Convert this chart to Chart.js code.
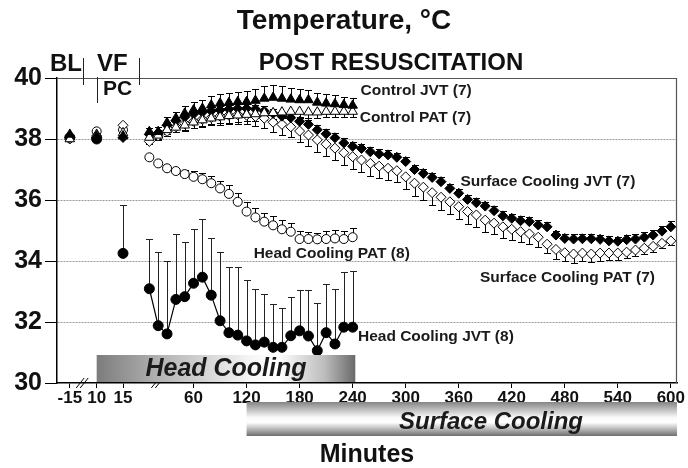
<!DOCTYPE html>
<html>
<head>
<meta charset="utf-8">
<script src="https://cdn.jsdelivr.net/npm/chart.js@4.4.0/dist/chart.umd.min.js"></script>
<style>
  html, body { margin: 0; padding: 0; background: #fff; }
  #wrap { width: 688px; height: 468px; }
</style>
</head>
<body>
<div id="wrap"><canvas id="tempChart" width="688" height="468"></canvas></div>
<script>
// ===== data (°C) =====
const preTimes = ['-15', '10', '15'];                 // BL, VF, PC
const postTickMinutes = [60, 120, 180, 240, 300, 360, 420, 480, 540, 600];
const tickLabels = ['-15', '10', '15', '60', '120', '180', '240', '300', '360', '420', '480', '540', '600'];

const times240 = [10, 20, 30, 40, 50, 60, 70, 80, 90, 100, 110, 120,
                  130, 140, 150, 160, 170, 180, 190, 200, 210, 220, 230, 240];
const times600 = [10, 20, 30, 40, 50, 60, 70, 80, 90, 100, 110, 120,
                  130, 140, 150, 160, 170, 180, 190, 200, 210, 220, 230, 240,
                  250, 260, 270, 280, 290, 300, 310, 320, 330, 340, 350, 360,
                  370, 380, 390, 400, 410, 420, 430, 440, 450, 460, 470, 480,
                  490, 500, 510, 520, 530, 540, 550, 560, 570, 580, 590, 600];

// Control JVT (filled triangles), SEM upward
const ctrlJvtPre = [38.15, 38.1, 38.1];
const ctrlJvt = [38.24, 38.24, 38.53, 38.68, 38.84, 38.95, 39.0, 39.11, 39.17, 39.19, 39.22, 39.22,
                 39.26, 39.33, 39.36, 39.33, 39.3, 39.28, 39.28, 39.2, 39.17, 39.15, 39.12, 39.1];
const ctrlJvtErr = [0.12, 0.15, 0.2, 0.22, 0.24, 0.26, 0.28, 0.3, 0.3, 0.32, 0.33, 0.35,
                    0.38, 0.4, 0.42, 0.4, 0.38, 0.36, 0.34, 0.32, 0.3, 0.28, 0.26, 0.25];

// Control PAT (open triangles), SEM downward
const ctrlPatPre = [38.0, 38.15, 38.2];
const ctrlPat = [38.05, 38.12, 38.3, 38.38, 38.45, 38.55, 38.62, 38.68, 38.72, 38.76, 38.78, 38.8,
                 38.82, 38.85, 38.86, 38.88, 38.9, 38.9, 38.88, 38.88, 38.9, 38.9, 38.9, 38.9];
const ctrlPatErr = [0.1, 0.12, 0.15, 0.15, 0.18, 0.18, 0.2, 0.2, 0.2, 0.22, 0.22, 0.22,
                    0.22, 0.22, 0.22, 0.2, 0.2, 0.2, 0.2, 0.18, 0.18, 0.18, 0.18, 0.18];

// Surface cooling JVT (filled diamonds), SEM upward
const surfJvtPre = [38.05, 38.05, 38.05];
const surfJvt = [38.15, 38.2, 38.45, 38.6, 38.72, 38.82, 38.88, 38.92, 38.95, 38.98, 39.0, 39.0,
                 38.98, 38.92, 38.84, 38.75, 38.7, 38.58, 38.48, 38.3, 38.17, 38.04, 37.87, 37.76,
                 37.69, 37.58, 37.51, 37.48, 37.4, 37.26, 37.0, 36.87, 36.74, 36.6, 36.38, 36.22,
                 36.02, 35.91, 35.8, 35.65, 35.48, 35.4, 35.32, 35.29, 35.18, 35.12, 34.85, 34.74,
                 34.72, 34.73, 34.73, 34.71, 34.66, 34.65, 34.7, 34.72, 34.78, 34.85, 34.98, 35.12];
const surfJvtErr = [0.08, 0.1, 0.1, 0.12, 0.12, 0.12, 0.14, 0.14, 0.14, 0.15, 0.15, 0.15,
                    0.15, 0.15, 0.15, 0.15, 0.15, 0.15, 0.15, 0.15, 0.15, 0.15, 0.15, 0.15,
                    0.15, 0.15, 0.15, 0.15, 0.15, 0.15, 0.15, 0.15, 0.15, 0.15, 0.15, 0.15,
                    0.15, 0.15, 0.15, 0.15, 0.15, 0.15, 0.15, 0.15, 0.15, 0.15, 0.15, 0.15,
                    0.15, 0.15, 0.15, 0.15, 0.15, 0.15, 0.15, 0.15, 0.16, 0.17, 0.18, 0.18];

// Surface cooling PAT (open diamonds), SEM downward
const surfPatPre = [38.0, 38.1, 38.45];
const surfPat = [37.92, 38.1, 38.25, 38.4, 38.5, 38.58, 38.65, 38.7, 38.75, 38.78, 38.8, 38.78,
                 38.74, 38.68, 38.55, 38.48, 38.4, 38.26, 38.13, 37.97, 37.83, 37.7, 37.55, 37.42,
                 37.31, 37.2, 37.11, 37.04, 36.96, 36.76, 36.55, 36.42, 36.24, 36.09, 35.94, 35.78,
                 35.62, 35.51, 35.34, 35.24, 35.12, 35.04, 34.96, 34.89, 34.78, 34.55, 34.38, 34.27,
                 34.23, 34.26, 34.23, 34.26, 34.26, 34.26, 34.29, 34.36, 34.42, 34.48, 34.58, 34.66];
const surfPatErr = [0.1, 0.12, 0.15, 0.18, 0.2, 0.22, 0.25, 0.25, 0.28, 0.28, 0.3, 0.3,
                    0.3, 0.32, 0.32, 0.34, 0.34, 0.36, 0.36, 0.38, 0.38, 0.38, 0.4, 0.4,
                    0.4, 0.4, 0.4, 0.38, 0.38, 0.4, 0.42, 0.42, 0.42, 0.42, 0.4, 0.4,
                    0.4, 0.38, 0.38, 0.36, 0.35, 0.35, 0.33, 0.32, 0.32, 0.3, 0.3, 0.28,
                    0.28, 0.26, 0.25, 0.25, 0.22, 0.22, 0.2, 0.2, 0.18, 0.18, 0.15, 0.15];

// Head cooling PAT (open circles), SEM upward
const headPatPre = [38.05, 38.25, 38.3];
const headPat = [37.4, 37.2, 37.04, 36.95, 36.85, 36.76, 36.68, 36.55, 36.38, 36.2, 35.94, 35.62,
                 35.43, 35.29, 35.17, 35.04, 34.96, 34.72, 34.72, 34.71, 34.72, 34.74, 34.72, 34.78];
const headPatErr = [0.05, 0.05, 0.08, 0.1, 0.15, 0.2, 0.22, 0.25, 0.25, 0.28, 0.3, 0.3,
                    0.3, 0.3, 0.3, 0.3, 0.3, 0.25, 0.22, 0.22, 0.25, 0.28, 0.28, 0.3];

// Head cooling JVT (filled circles, joined), SEM upward
const headJvtPre = [38.05, 38.0, 34.25];
const headJvtPreErr = [0, 0, 1.6];
const headJvt = [33.09, 31.88, 31.61, 32.74, 32.83, 33.27, 33.47, 32.88, 32.04, 31.65, 31.57, 31.38,
                 31.25, 31.34, 31.17, 31.17, 31.55, 31.71, 31.54, 31.06, 31.65, 31.28, 31.83, 31.83];
const headJvtErr = [1.62, 2.42, 2.39, 2.14, 1.8, 1.77, 1.9, 1.86, 2.24, 2.14, 2.24, 2.0,
                    1.83, 1.57, 1.41, 1.3, 1.28, 1.34, 1.51, 1.57, 1.59, 1.8, 1.82, 1.84];

// ===== layout =====
// pre-resuscitation phase is squeezed in front of the broken axis
const PRE_SLOT = { '-15': -80, '10': -49.6, '15': -19.8 };
const X_MIN = -94.5, X_MAX = 607;
const FONT = "'Liberation Sans', Arial, sans-serif";

const seriesLabels = [
    { text: 'Control JVT (7)', t: 249, v: 39.57 },
    { text: 'Control PAT (7)', t: 248, v: 38.69 },
    { text: 'Surface Cooling JVT (7)', t: 362, v: 36.59 },
    { text: 'Head Cooling PAT (8)', t: 128, v: 34.23 },
    { text: 'Surface Cooling PAT (7)', t: 384, v: 33.44 },
    { text: 'Head Cooling JVT (8)', t: 246, v: 31.52 }
];

function series(pre, post, times, preErr, postErr) {
    const data = [], errs = [];
    pre.forEach((v, i) => {
        data.push({ x: PRE_SLOT[preTimes[i]], y: v });
        errs.push(preErr ? preErr[i] : 0);
    });
    post.forEach((v, i) => {
        data.push({ x: times[i], y: v });
        errs.push(postErr[i]);
    });
    return { data, errs };
}

function markerSet(label, s, style, filled, radius, dir) {
    return {
        label: label,
        data: s.data,
        errors: s.errs,
        errorDir: dir,
        showLine: false,
        pointStyle: style,
        pointRadius: radius,
        pointBackgroundColor: filled ? '#000' : '#fff',
        pointBorderColor: '#000',
        pointBorderWidth: 1
    };
}

const cj = series(ctrlJvtPre, ctrlJvt, times240, null, ctrlJvtErr);
const cp = series(ctrlPatPre, ctrlPat, times240, null, ctrlPatErr);
const sj = series(surfJvtPre, surfJvt, times600, null, surfJvtErr);
const sp = series(surfPatPre, surfPat, times600, null, surfPatErr);
const hp = series(headPatPre, headPat, times240, null, headPatErr);
const hj = series(headJvtPre, headJvt, times240, headJvtPreErr, headJvtErr);

const headJvtSet = markerSet('Head Cooling JVT (8)', hj, 'circle', true, 5, 1);
headJvtSet.showLine = true;
headJvtSet.borderColor = '#000';
headJvtSet.borderWidth = 1.2;
headJvtSet.errorColor = '#222';
// only the post-resuscitation points are joined
headJvtSet.segment = { borderColor: c => c.p0.parsed.x < 0 ? 'rgba(0,0,0,0)' : '#000' };

// ===== error bars (drawn under the markers) =====
const errorBars = {
    id: 'errorBars',
    beforeDatasetsDraw(chart) {
        const { ctx, scales: { x, y } } = chart;
        chart.data.datasets.forEach(ds => {
            if (!ds.errors) return;
            ctx.save();
            ctx.strokeStyle = ds.errorColor || '#000';
            ctx.lineWidth = 1;
            ds.data.forEach((p, j) => {
                const e = ds.errors[j];
                if (p.y === null || !e) return;
                const px = Math.round(x.getPixelForValue(p.x)) + 0.5;
                const y0 = y.getPixelForValue(p.y);
                const y1 = Math.round(y.getPixelForValue(p.y + ds.errorDir * e)) + 0.5;
                ctx.beginPath();
                ctx.moveTo(px, y0);
                ctx.lineTo(px, y1);
                ctx.moveTo(px - 3.5, y1);
                ctx.lineTo(px + 3.5, y1);
                ctx.stroke();
            });
            ctx.restore();
        });
    }
};

// ===== frame, phase labels, series labels, cooling bars =====
const decorations = {
    id: 'decorations',
    afterDraw(chart) {
        const { ctx, chartArea: a, scales: { x, y } } = chart;
        ctx.save();

        // top (40 °C) and right edge of the frame
        ctx.strokeStyle = '#555';
        ctx.lineWidth = 1.2;
        ctx.beginPath();
        ctx.moveTo(a.left, a.top + 0.5);
        ctx.lineTo(a.right - 0.5, a.top + 0.5);
        ctx.lineTo(a.right - 0.5, a.bottom);
        ctx.stroke();

        // title
        ctx.fillStyle = '#111';
        ctx.textAlign = 'center';
        ctx.textBaseline = 'middle';
        ctx.font = `bold 28px ${FONT}`;
        ctx.fillText('Temperature, °C', 344, 21);

        // phase labels + separators
        ctx.font = `bold 24px ${FONT}`;
        ctx.textAlign = 'left';
        ctx.fillText('BL', 50, 64);
        ctx.fillText('VF', 97, 64);
        ctx.font = `bold 21px ${FONT}`;
        ctx.fillText('PC', 103, 89);
        ctx.font = `bold 24px ${FONT}`;
        ctx.textAlign = 'center';
        ctx.fillText('POST RESUSCITATION', 391, 63);

        ctx.strokeStyle = '#222';
        ctx.lineWidth = 1;
        const sep = (v, y0, y1) => {
            const px = Math.round(x.getPixelForValue(v)) + 0.5;
            ctx.beginPath(); ctx.moveTo(px, y0); ctx.lineTo(px, y1); ctx.stroke();
        };
        sep(-64.8, 58, 85);
        sep(PRE_SLOT['10'], 77, 103);
        sep(-2, 58, 85);

        // series labels
        ctx.font = `bold 15.5px ${FONT}`;
        ctx.textAlign = 'left';
        ctx.fillStyle = '#1a1a1a';
        seriesLabels.forEach(l => {
            ctx.fillText(l.text, x.getPixelForValue(l.t), y.getPixelForValue(l.v));
        });

        // axis break marks
        ctx.strokeStyle = '#000';
        [-66, 19].forEach(v => {
            const px = x.getPixelForValue(v);
            [-2, 2].forEach(o => {
                ctx.beginPath();
                ctx.moveTo(px + o - 4, a.bottom + 5);
                ctx.lineTo(px + o + 4, a.bottom - 5);
                ctx.stroke();
            });
        });

        // head cooling bar (horizontal shading)
        const hx0 = x.getPixelForValue(PRE_SLOT['10']);
        const hx1 = x.getPixelForValue(243);
        const hy0 = a.bottom - 28, hy1 = a.bottom - 1;
        let g = ctx.createLinearGradient(hx0, 0, hx1, 0);
        g.addColorStop(0, '#7c7c7c');
        g.addColorStop(0.25, '#b4b4b4');
        g.addColorStop(0.6, '#f6f6f6');
        g.addColorStop(0.7, '#ffffff');
        g.addColorStop(0.88, '#bdbdbd');
        g.addColorStop(1, '#6a6a6a');
        ctx.fillStyle = g;
        ctx.fillRect(hx0, hy0, hx1 - hx0, hy1 - hy0);
        ctx.fillStyle = '#1a1a1a';
        ctx.textAlign = 'center';
        ctx.textBaseline = 'alphabetic';
        ctx.font = `italic bold 25px ${FONT}`;
        ctx.fillText('Head Cooling', (hx0 + hx1) / 2, a.bottom - 7);

        // surface cooling bar (vertical shading)
        const sx0 = x.getPixelForValue(120);
        const sx1 = a.right;
        const sy0 = a.bottom + 19, sy1 = a.bottom + 53;
        g = ctx.createLinearGradient(0, sy0, 0, sy1);
        g.addColorStop(0, '#858585');
        g.addColorStop(0.45, '#f8f8f8');
        g.addColorStop(0.6, '#ffffff');
        g.addColorStop(1, '#6e6e6e');
        ctx.fillStyle = g;
        ctx.fillRect(sx0, sy0, sx1 - sx0, sy1 - sy0);
        ctx.fillStyle = '#1a1a1a';
        ctx.font = `italic bold 24px ${FONT}`;
        ctx.fillText('Surface Cooling', 491, sy1 - 7);

        ctx.restore();
    }
};

new Chart(document.getElementById('tempChart'), {
    type: 'line',
    data: {
        datasets: [
            markerSet('Control JVT (7)', cj, 'triangle', true, 5.5, 1),
            markerSet('Control PAT (7)', cp, 'triangle', false, 5.5, -1),
            markerSet('Surface Cooling JVT (7)', sj, 'rectRot', true, 5, 1),
            markerSet('Surface Cooling PAT (7)', sp, 'rectRot', false, 5, -1),
            markerSet('Head Cooling PAT (8)', hp, 'circle', false, 4.5, 1),
            headJvtSet
        ]
    },
    options: {
        responsive: false,
        animation: false,
        devicePixelRatio: 1,
        layout: { padding: { left: 0, right: 11, top: 78, bottom: 0 } },
        plugins: {
            legend: { display: false },
            tooltip: { enabled: false },
            title: { display: false }
        },
        scales: {
            x: {
                type: 'linear',
                min: X_MIN,
                max: X_MAX,
                afterBuildTicks: s => {
                    s.ticks = preTimes.map(l => ({ value: PRE_SLOT[l] }))
                        .concat(postTickMinutes.map(m => ({ value: m })));
                },
                afterFit: s => { s.height = 85; },
                ticks: {
                    autoSkip: false,
                    maxRotation: 0,
                    minRotation: 0,
                    padding: 0,
                    color: '#111',
                    font: { family: FONT, size: 17, weight: 'bold' },
                    callback: (v, i) => tickLabels[i]
                },
                grid: { drawOnChartArea: false, drawTicks: true, tickLength: 5, tickColor: '#000' },
                border: { display: true, color: '#000', width: 1.5 },
                title: {
                    display: true,
                    text: 'Minutes',
                    color: '#111',
                    font: { family: FONT, size: 25, weight: 'bold', lineHeight: 1 },
                    padding: { top: 0, bottom: 0 }
                }
            },
            y: {
                min: 30,
                max: 40,
                afterFit: s => { s.width = 57; },
                ticks: {
                    stepSize: 2,
                    padding: 3,
                    color: '#111',
                    font: { family: FONT, size: 25, weight: 'bold' }
                },
                grid: {
                    color: c => (c.tick && c.tick.value > 30 && c.tick.value < 40) ? '#9a9a9a' : 'rgba(0,0,0,0)',
                    tickColor: '#000',
                    tickLength: 12,
                    lineWidth: 1
                },
                border: { display: true, color: '#000', width: 1.5, dash: [2, 1] }
            }
        }
    },
    plugins: [errorBars, decorations]
});
</script>
</body>
</html>
